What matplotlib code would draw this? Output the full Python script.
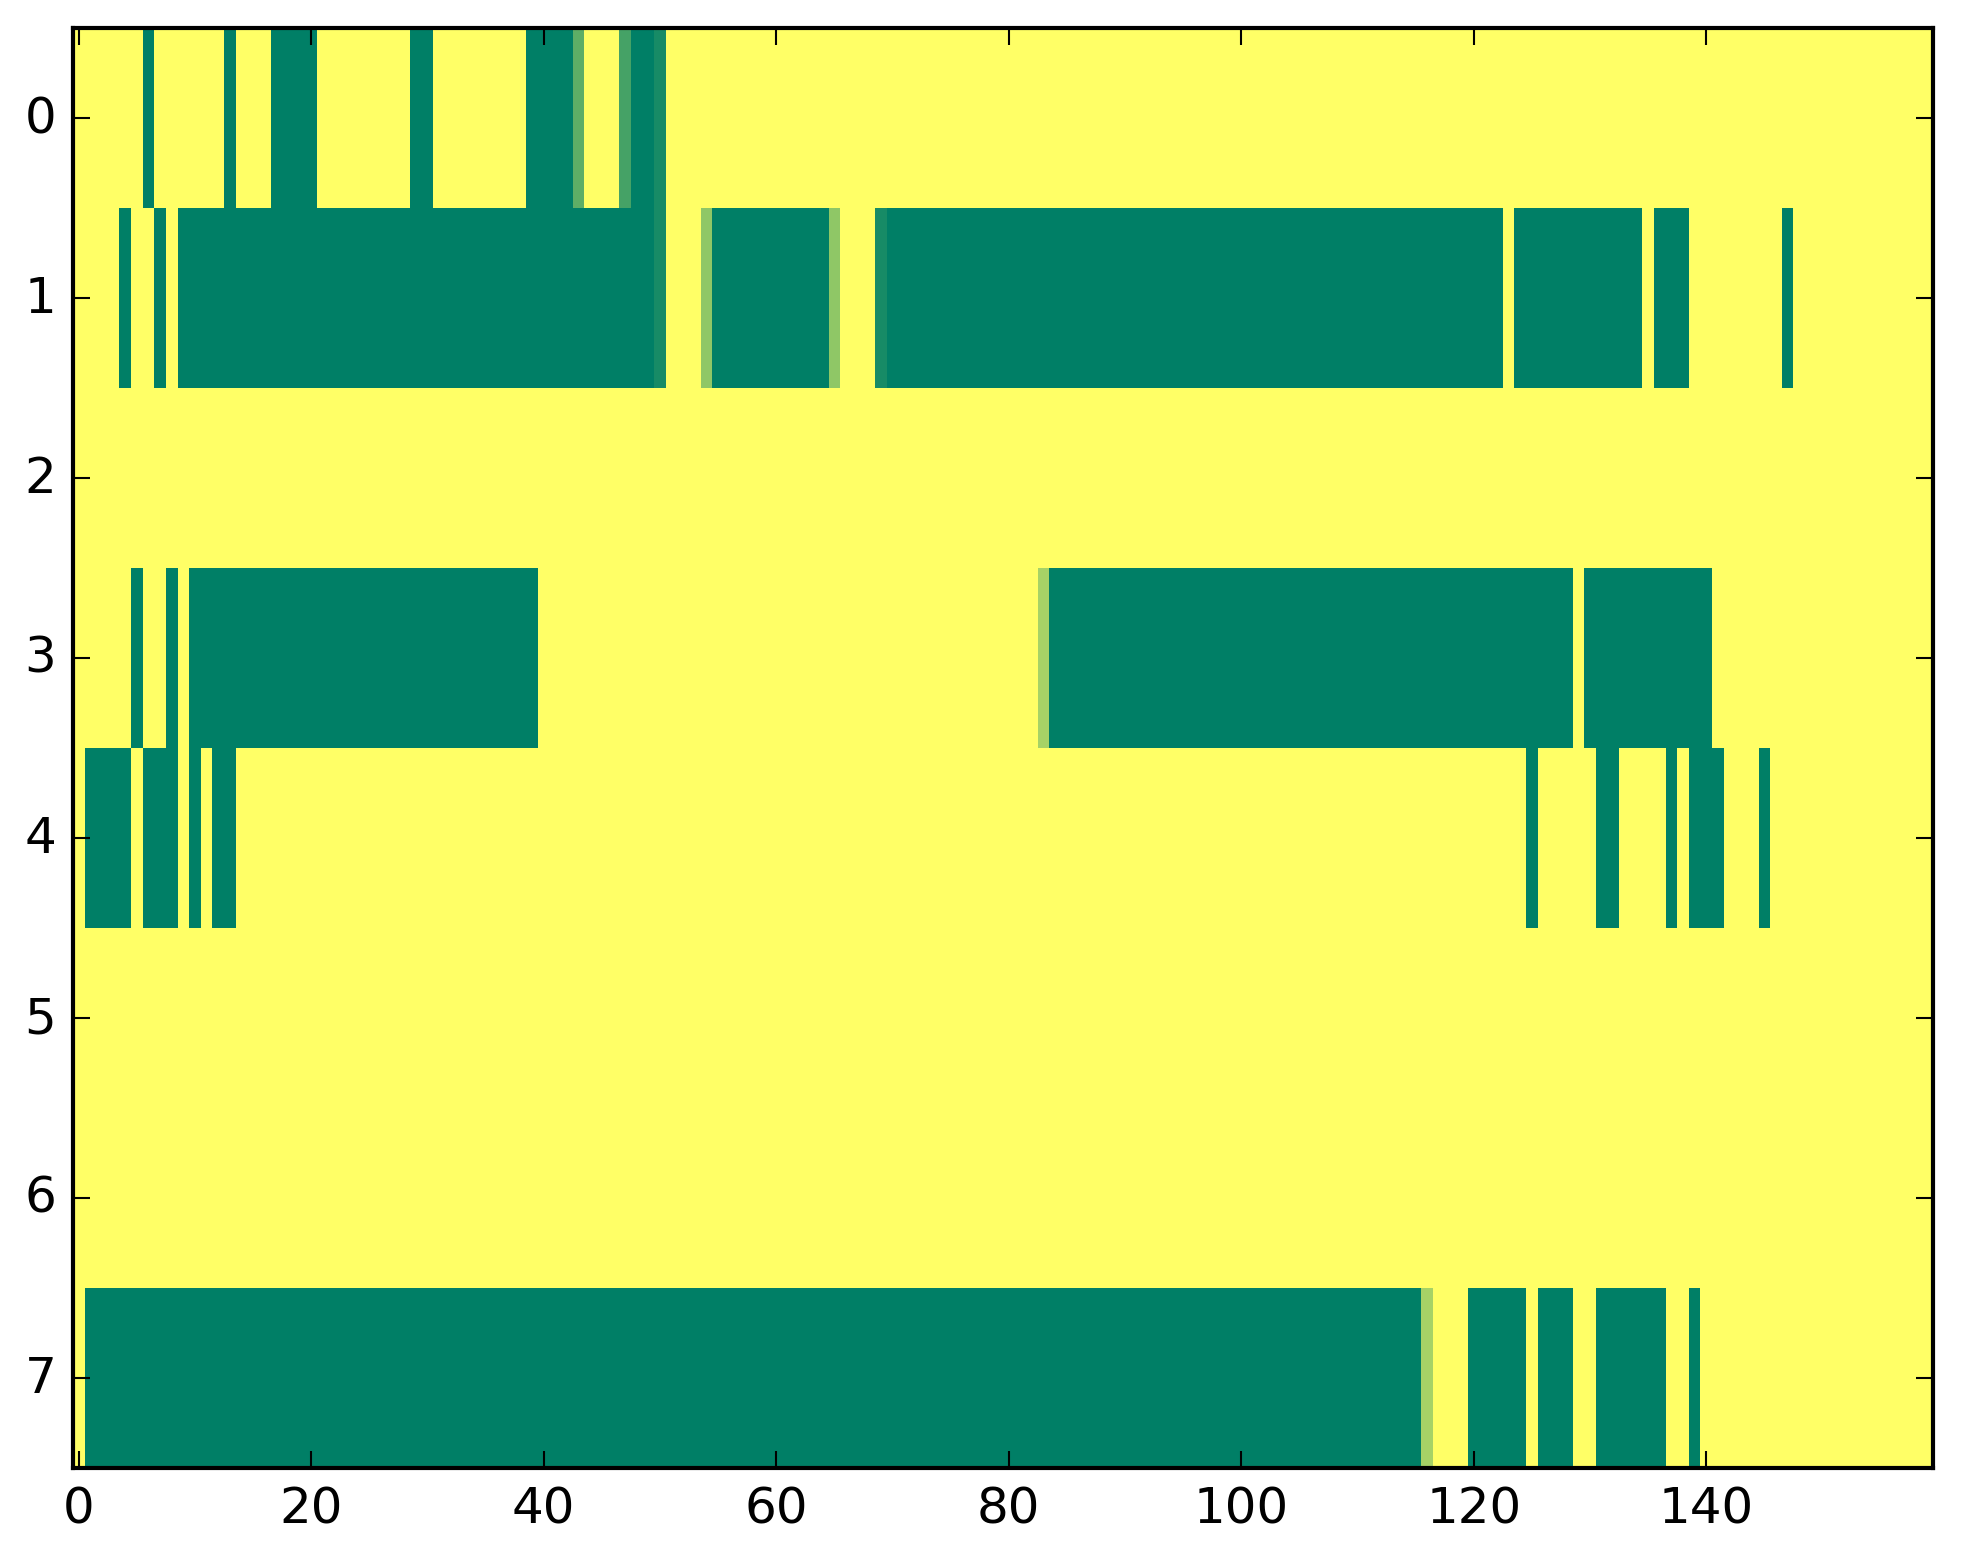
import numpy as np
import matplotlib
matplotlib.use('Agg')
import matplotlib.pyplot as plt

plt.style.use('classic')

n_rows = 8
n_cols = 160

# (first column, last column, value) for every run that is not the default 1.0
row0_runs = [(6, 6, 0), (13, 13, 0), (17, 20, 0), (29, 30, 0), (39, 42, 0),
             (43, 43, 0.37), (47, 47, 0.27), (48, 49, 0), (50, 50, 0.09)]
row1_runs = [(4, 4, 0), (7, 7, 0), (9, 49, 0), (50, 50, 0.09), (54, 54, 0.56),
             (55, 64, 0), (65, 65, 0.56), (69, 69, 0.09), (70, 122, 0),
             (124, 134, 0), (136, 138, 0), (147, 147, 0)]
row2_runs = []
row3_runs = [(5, 5, 0), (8, 8, 0), (10, 39, 0), (83, 83, 0.65), (84, 128, 0),
             (130, 140, 0)]
row4_runs = [(1, 4, 0), (6, 8, 0), (10, 10, 0), (12, 13, 0), (125, 125, 0),
             (131, 132, 0), (137, 137, 0), (139, 141, 0), (145, 145, 0)]
row5_runs = []
row6_runs = []
row7_runs = [(1, 115, 0), (116, 116, 0.65), (120, 124, 0), (126, 128, 0),
             (131, 136, 0), (139, 139, 0)]

all_runs = [row0_runs, row1_runs, row2_runs, row3_runs,
            row4_runs, row5_runs, row6_runs, row7_runs]

data = np.ones((n_rows, n_cols))
for r, runs in enumerate(all_runs):
    for start, end, val in runs:
        data[r, start:end + 1] = val

fig = plt.figure(figsize=(1963 / 300, 1564 / 300), dpi=300)
ax = fig.add_axes([73 / 1963, 95 / 1564, 1860 / 1963, 1440 / 1564])
ax.imshow(data, cmap='summer', aspect='auto', interpolation='nearest',
          vmin=0, vmax=1)
ax.set_xticks(np.arange(0, 160, 20))
ax.set_yticks(np.arange(0, 8, 1))

fig.savefig('out.png', dpi=300, facecolor='white')
